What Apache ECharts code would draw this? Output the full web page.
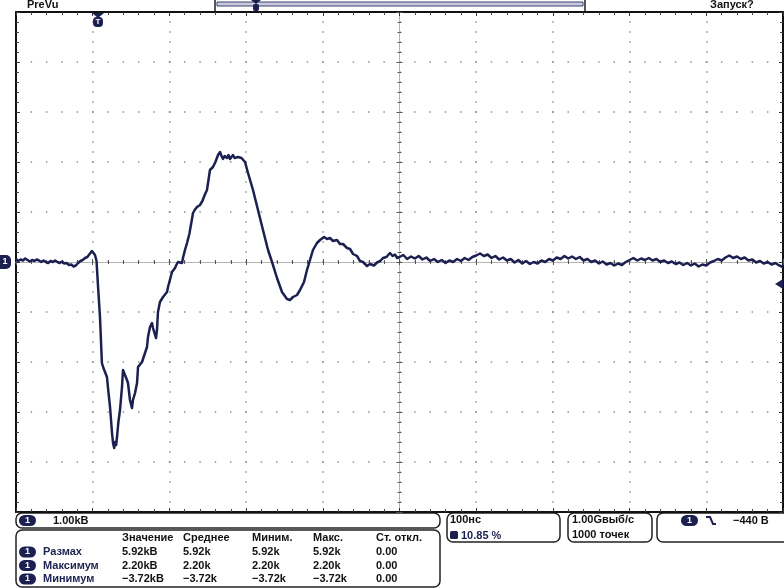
<!DOCTYPE html>
<html>
<head>
<meta charset="utf-8">
<script src="https://cdn.jsdelivr.net/npm/echarts@6/dist/echarts.min.js"></script>
<style>
html, body { margin: 0; padding: 0; background: #fff; }
#chart { width: 784px; height: 588px; }
</style>
</head>
<body>
<div id="chart"></div>
<script>
// waveform: time in ns from the left edge of the record, voltage in kV
const timeNs = [
  0, 3, 6, 9, 12, 15, 18, 21, 24, 27, 30, 33, 36, 39, 42, 45, 48, 51, 54, 57,
  60, 63, 66, 69, 72, 75, 78, 81, 84, 87, 90, 93, 96, 99, 101, 103, 105, 107, 109.5, 112,
  114, 116, 118.6, 120.5, 122.6, 125.2, 126.5, 128, 129, 130.5, 131.7, 133.5, 135.6, 138.2, 139.5, 142, 144.7, 146, 148.6, 151.2,
  152.5, 155.2, 157.8, 159.1, 161.5, 164.3, 168.2, 170.8, 172.1, 174.7, 177.3, 178.6, 182.5, 183.8, 185.1, 187.7, 191.7, 194, 196.9, 198.2,
  201, 203.4, 207.3, 209, 211.2, 213, 216.4, 218, 220.3, 223, 226, 230.8, 233, 236, 239.9, 243, 246, 249, 252.9, 256.8,
  260, 263.4, 266, 268, 269.9, 272, 275.1, 277, 279, 281, 282.9, 285, 287, 289.4, 292, 294, 296, 298.6, 302.5, 309,
  315.5, 322, 328.6, 333.8, 340.3, 346.8, 353.3, 357.2, 361.2, 366.4, 370.3, 375.5, 379.4, 383.3, 387.2, 392.4, 396.4, 401.6, 405.5, 409.4,
  413.3, 418.5, 422.4, 426.3, 431.6, 435.5, 439.4, 444.6, 448.5, 452.4, 457.6, 461.5, 466.7, 470.7, 475, 478.5, 483, 487.6, 491, 494.1,
  497, 500, 505, 510, 515, 520, 525, 530, 535, 540, 545, 550, 555, 560, 565, 570, 575, 580, 585, 590,
  595, 600, 605, 610, 615, 620, 625, 630, 635, 640, 645, 650, 655, 660, 665, 670, 675, 680, 685, 690,
  695, 700, 705, 710, 715, 720, 725, 730, 735, 740, 745, 750, 755, 760, 765, 770, 775, 780, 785, 790,
  795, 800, 805, 810, 815, 820, 825, 830, 835, 840, 845, 850, 855, 860, 865, 870, 875, 880, 885, 890,
  895, 900, 905, 910, 915, 920, 925, 930, 935, 940, 945, 950, 955, 960, 965, 970, 975, 980, 985, 990,
  995, 1000
];
const voltKV = [
  0.06, 0.02, 0.05, 0.03, 0.07, 0.04, 0.01, 0.04, 0.02, 0.05, 0.03, 0.00, 0.03, 0.00, -0.02, 0.02, 0.00, 0.03, 0.00, -0.02,
  0.01, -0.03, -0.02, -0.06, -0.05, -0.09, -0.07, -0.02, 0.02, 0.04, 0.08, 0.10, 0.16, 0.22, 0.18, 0.14, 0.02, -0.50, -1.10, -2.02,
  -2.12, -2.16, -2.30, -2.60, -2.90, -3.42, -3.62, -3.72, -3.60, -3.66, -3.50, -3.20, -2.96, -2.50, -2.16, -2.12, -2.36, -2.42, -2.76, -2.92,
  -2.76, -2.62, -2.42, -2.10, -2.06, -2.00, -1.82, -1.70, -1.50, -1.30, -1.22, -1.32, -1.52, -1.36, -1.00, -0.80, -0.70, -0.66, -0.60, -0.50,
  -0.34, -0.20, -0.12, -0.06, 0.00, 0.04, -0.02, 0.10, 0.24, 0.38, 0.56, 0.98, 1.04, 1.10, 1.14, 1.22, 1.34, 1.44, 1.84, 1.90,
  2.00, 2.14, 2.20, 2.12, 2.06, 2.12, 2.08, 2.14, 2.06, 2.10, 2.14, 2.08, 2.12, 2.10, 2.14, 2.08, 2.12, 2.00, 1.78, 1.44,
  1.04, 0.64, 0.24, 0.00, -0.32, -0.60, -0.74, -0.76, -0.70, -0.66, -0.56, -0.40, -0.16, 0.04, 0.24, 0.38, 0.44, 0.50, 0.46, 0.48,
  0.42, 0.44, 0.36, 0.36, 0.28, 0.26, 0.16, 0.12, 0.02, 0.00, -0.08, -0.04, -0.07, -0.01, 0.02, 0.08, 0.10, 0.18, 0.12, 0.15,
  0.08, 0.10, 0.14, 0.06, 0.11, 0.07, 0.12, 0.05, 0.09, 0.02, 0.06, 0.00, 0.04, -0.02, 0.03, 0.00, 0.06, 0.02, 0.08, 0.04,
  0.10, 0.13, 0.17, 0.12, 0.15, 0.08, 0.12, 0.05, 0.09, 0.03, 0.06, -0.01, 0.04, -0.03, 0.02, -0.04, 0.00, -0.03, 0.03, 0.00,
  0.06, 0.03, 0.09, 0.06, 0.12, 0.07, 0.11, 0.06, 0.10, 0.03, 0.06, 0.00, 0.03, -0.03, 0.01, -0.05, -0.02, -0.07, -0.03, -0.06,
  0.00, 0.04, 0.08, 0.03, 0.07, 0.04, 0.08, 0.03, 0.06, 0.00, 0.03, -0.02, 0.01, -0.04, -0.01, -0.06, -0.02, -0.07, -0.03, -0.09,
  -0.05, -0.07, -0.01, 0.02, 0.06, 0.03, 0.09, 0.13, 0.08, 0.11, 0.06, 0.09, 0.03, 0.05, -0.01, 0.02, -0.03, 0.00, -0.05, -0.02,
  -0.07, -0.10
];

// readouts
const measHeader = ['Значение', 'Среднее', 'Миним.', 'Макс.', 'Ст. откл.'];
const measNames = ['Размах', 'Максимум', 'Минимум'];
const measRows = [
  ['5.92kВ', '5.92k', '5.92k', '5.92k', '0.00'],
  ['2.20kВ', '2.20k', '2.20k', '2.20k', '0.00'],
  ['\u22123.72kВ', '\u22123.72k', '\u22123.72k', '\u22123.72k', '0.00']
];
const chScale = '1.00kВ';
const timeScale = '100нс';
const trigPos = '10.85 %';
const sampleRate = '1.00Gвыб/с';
const recLength = '1000 точек';
const trigLevel = '\u2212440 В';
const topLeft = 'PreVu';
const topRight = 'Запуск?';

const NAVY = '#1b2050';
const FONT = 'bold 11px "Liberation Sans Narrow", "Liberation Sans", sans-serif';

const chart = echarts.init(document.getElementById('chart'), null, { renderer: 'canvas' });

const dotsH = { color: '#8e8e8e', width: 1.5, type: [1.5, 13.84], dashOffset: 0.75 };
const dotsV = { color: '#8e8e8e', width: 1.5, type: [1.5, 8.5], dashOffset: 0.75 };

function borderAxis(pos, grid, split) {
  const isX = pos === 'top' || pos === 'bottom';
  return {
    gridIndex: grid, type: 'value', position: pos,
    min: isX ? 0 : -5, max: isX ? 1000 : 5, interval: isX ? 100 : 1,
    axisLine: { onZero: false, lineStyle: { color: '#111', width: 2 } },
    axisTick: { inside: true, length: 4, lineStyle: { color: '#333' } },
    minorTick: { show: true, splitNumber: 5, length: 3, lineStyle: { color: '#444' } },
    axisLabel: { show: false },
    splitLine: { show: split, lineStyle: isX ? dotsV : dotsH }
  };
}
function centerAxis(pos, other) {
  const isX = pos === 'top' || pos === 'bottom';
  return {
    gridIndex: 1, type: 'value', position: pos,
    min: isX ? -500 : -5, max: isX ? 500 : 5, interval: isX ? 100 : 1,
    axisLine: { onZero: true, onZeroAxisIndex: other, lineStyle: { color: '#b4b4b4', width: 1 } },
    axisTick: { inside: true, length: 3, lineStyle: { color: '#555' } },
    minorTick: { show: true, splitNumber: 5, length: 2, lineStyle: { color: '#555' } },
    axisLabel: { show: false },
    splitLine: { show: false }
  };
}

function badge(x, y) {
  return {
    type: 'group', x: x, y: y,
    children: [
      { type: 'rect', shape: { x: 0, y: 0, width: 17, height: 11, r: 5.5 }, style: { fill: NAVY } },
      { type: 'text', style: { text: '1', x: 8.5, y: 5.5, align: 'center', verticalAlign: 'middle', font: 'bold 9px "Liberation Sans", sans-serif', fill: '#fff' } }
    ]
  };
}
function label(x, y, s, color) {
  return { type: 'text', style: { text: s, x: x, y: y, verticalAlign: 'middle', font: FONT, fill: color || '#111' } };
}
function box(x, y, w, h) {
  return { type: 'rect', shape: { x: x, y: y, width: w, height: h, r: 6 }, style: { fill: '#fff', stroke: '#222', lineWidth: 1.5 } };
}

const g = [];
// top strip
g.push(label(27, 5, topLeft));
g.push(label(710, 5, topRight));
g.push({ type: 'rect', shape: { x: 215, y: -2, width: 370, height: 14 }, style: { fill: '#fff', stroke: '#222', lineWidth: 1.5 } });
g.push({ type: 'rect', shape: { x: 217, y: 2, width: 366, height: 4 }, style: { fill: '#c9cadb', stroke: '#3d4070', lineWidth: 1 } });
g.push({ type: 'polygon', shape: { points: [[251, 0], [261, 0], [256, 4]] }, style: { fill: NAVY } });
g.push({ type: 'rect', shape: { x: 253, y: 4, width: 6, height: 7, r: 2 }, style: { fill: NAVY } });
// trigger position marker
g.push({ type: 'polygon', shape: { points: [[92, 13], [104, 13], [98, 18]] }, style: { fill: NAVY }, z: 10 });
g.push({ type: 'rect', shape: { x: 93, y: 17, width: 10, height: 10, r: 4 }, style: { fill: NAVY }, z: 10 });
g.push({ type: 'text', style: { text: 'T', x: 98, y: 22, align: 'center', verticalAlign: 'middle', font: 'bold 8px "Liberation Sans", sans-serif', fill: '#fff' }, z: 11 });
// channel ground marker
g.push({ type: 'rect', shape: { x: 0, y: 255, width: 11, height: 14, r: [0, 5, 5, 0] }, style: { fill: NAVY }, z: 10 });
g.push({ type: 'text', style: { text: '1', x: 5, y: 262, align: 'center', verticalAlign: 'middle', font: 'bold 9px "Liberation Sans", sans-serif', fill: '#fff' }, z: 11 });
// trigger level marker
g.push({ type: 'polygon', shape: { points: [[775, 284], [783, 279], [783, 289]] }, style: { fill: NAVY }, z: 10 });

// bottom readouts
g.push(box(16, 513, 424, 15));
g.push(badge(19, 515));
g.push(label(53, 520.5, chScale));
g.push(box(16, 530, 424, 57));
const colX = [122, 183, 252, 313, 376];
measHeader.forEach((s, i) => g.push(label(colX[i], 538, s)));
measNames.forEach((s, r) => {
  const y = 552 + r * 13.5;
  g.push(badge(19, y - 5.5));
  g.push(label(43, y, s, NAVY));
  measRows[r].forEach((v, i) => g.push(label(colX[i], y, v)));
});
g.push(box(447, 513, 113, 29));
g.push(label(450, 520, timeScale));
g.push({ type: 'rect', shape: { x: 450, y: 531, width: 8, height: 8, r: 1.5 }, style: { fill: NAVY } });
g.push(label(461, 535.5, trigPos, NAVY));
g.push(box(568, 513, 84, 29));
g.push(label(572, 520, sampleRate));
g.push(label(572, 534.5, recLength));
g.push(box(657, 513, 140, 29));
g.push(badge(681, 515));
g.push({ type: 'polyline', shape: { points: [[706, 517], [710, 517], [713, 524], [716, 524]] }, style: { stroke: NAVY, lineWidth: 2, fill: null } });
g.push(label(733, 520.5, trigLevel));

const option = {
  animation: false,
  backgroundColor: '#fff',
  grid: [
    { left: 16, top: 12, width: 767, height: 500 },
    { left: 16, top: 12, width: 767, height: 500 }
  ],
  xAxis: [
    borderAxis('bottom', 0, true),
    borderAxis('top', 0, false),
    centerAxis('bottom', 2),
    centerAxis('top', 2)
  ],
  yAxis: [
    borderAxis('left', 0, true),
    borderAxis('right', 0, false),
    centerAxis('left', 2),
    centerAxis('right', 2)
  ],
  series: [{
    type: 'line',
    xAxisIndex: 0,
    yAxisIndex: 0,
    data: timeNs.map((t, i) => [t, voltKV[i]]),
    showSymbol: false,
    lineStyle: { color: NAVY, width: 2.5, join: 'round' },
    z: 5
  }],
  graphic: g
};
chart.setOption(option);
</script>
</body>
</html>
